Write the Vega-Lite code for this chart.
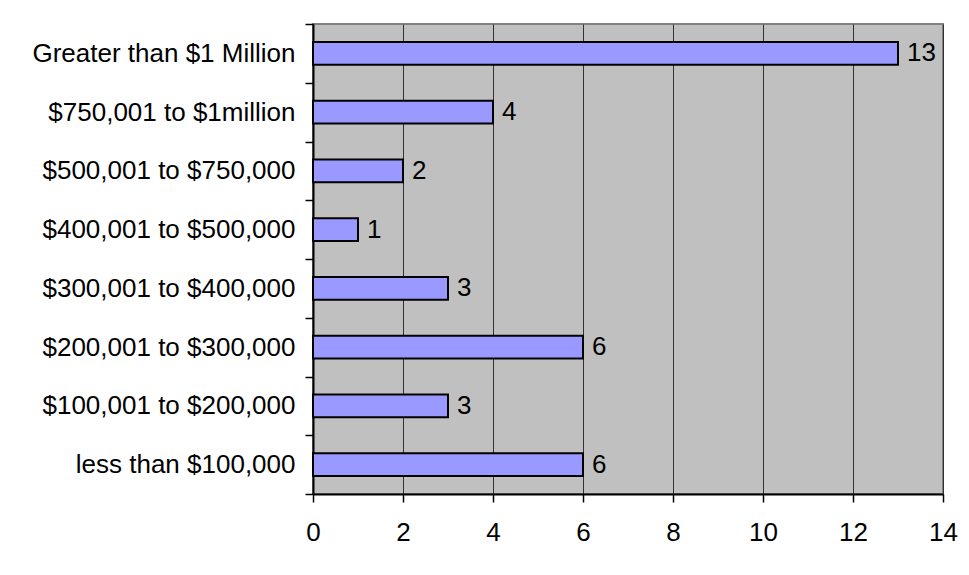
{
  "$schema": "https://vega.github.io/schema/vega-lite/v6.json",
  "autosize": {"type": "none"},
  "padding": {"left": 313, "top": 24, "right": 26, "bottom": 81},
  "width": 630,
  "height": 470,
  "background": "white",
  "data": {
    "values": [
      {"range": "Greater than $1 Million", "count": 13},
      {"range": "$750,001 to $1million", "count": 4},
      {"range": "$500,001 to $750,000", "count": 2},
      {"range": "$400,001 to $500,000", "count": 1},
      {"range": "$300,001 to $400,000", "count": 3},
      {"range": "$200,001 to $300,000", "count": 6},
      {"range": "$100,001 to $200,000", "count": 3},
      {"range": "less than $100,000", "count": 6}
    ]
  },
  "config": {
    "view": {"fill": "#C0C0C0", "stroke": "#808080", "strokeWidth": 2},
    "font": "Liberation Sans"
  },
  "encoding": {
    "y": {
      "field": "range",
      "type": "nominal",
      "sort": null,
      "scale": {"paddingInner": 0, "paddingOuter": 0},
      "axis": {
        "title": null,
        "labelFont": "Liberation Sans",
        "labelFontSize": 26,
        "labelColor": "black",
        "labelPadding": 10,
        "labelLimit": 0,
        "tickBand": "extent",
        "tickSize": 8,
        "tickColor": "black",
        "tickWidth": 1.5,
        "domainColor": "black",
        "domainWidth": 2,
        "grid": false
      }
    },
    "x": {
      "field": "count",
      "type": "quantitative",
      "scale": {"domain": [0, 14], "nice": false},
      "axis": {
        "title": null,
        "values": [0, 2, 4, 6, 8, 10, 12, 14],
        "labelFont": "Liberation Sans",
        "labelFontSize": 26,
        "labelColor": "black",
        "labelPadding": 17,
        "labelFlush": false,
        "tickSize": 8,
        "tickColor": "black",
        "tickWidth": 1.5,
        "domainColor": "black",
        "domainWidth": 2,
        "grid": true,
        "gridColor": "#333333",
        "gridWidth": 1,
        "gridOpacity": 1
      }
    }
  },
  "layer": [
    {
      "mark": {"type": "bar", "height": {"band": 0.39}, "fill": "#9999FF", "stroke": "black", "strokeWidth": 2}
    },
    {
      "mark": {"type": "text", "align": "left", "baseline": "middle", "dx": 9, "font": "Liberation Sans", "fontSize": 26, "color": "black"},
      "encoding": {"text": {"field": "count", "type": "quantitative"}}
    }
  ]
}
